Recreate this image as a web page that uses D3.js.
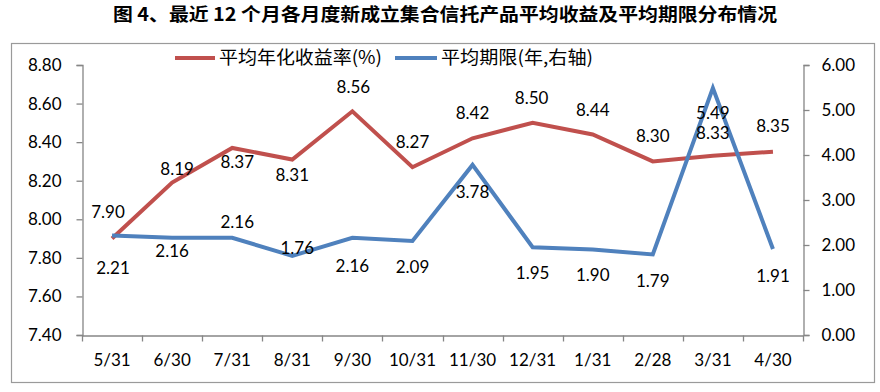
<!DOCTYPE html>
<html><head><meta charset="utf-8">
<script src="https://cdn.jsdelivr.net/npm/d3@7"></script>
<style>body{margin:0;background:#fff}svg{display:block}</style>
</head><body>
<svg id="c" width="880" height="392"></svg>
<script>
const categories = ["5/31","6/30","7/31","8/31","9/30","10/31","11/30","12/31","1/31","2/28","3/31","4/30"];
const yieldValues = [7.90,8.19,8.37,8.31,8.56,8.27,8.42,8.50,8.44,8.30,8.33,8.35];
const termValues = [2.21,2.16,2.16,1.76,2.16,2.09,3.78,1.95,1.90,1.79,5.49,1.91];
const leftTicks = [7.40,7.60,7.80,8.00,8.20,8.40,8.60,8.80];
const rightTicks = [0,1,2,3,4,5,6];
const seriesNames = ["平均年化收益率(%)","平均期限(年,右轴)"];
const titleText = "图 4、最近 12 个月各月度新成立集合信托产品平均收益及平均期限分布情况";
// label placement offsets (dx, dy) relative to the point
const yieldLabelOffset = [[-4,-27],[5,-14],[5,14],[0,16],[1,-24],[0,-25],[0,-25],[-1,-25],[0,-24],[0,-25],[0,-23],[0,-26]];
const termLabelOffset = [[1,32],[0,13],[5,-16],[5,-8],[0,28],[0,26],[0,27],[0,26],[0,26],[0,27],[0,25],[0,27]];

const svg = d3.select("#c");
const L = 82, R = 803, T = 65, B = 335;
const numFont = "Lato, 'Open Sans', sans-serif";
const cjk = "'Noto Sans CJK SC', sans-serif";
const axisColor = "#868686";
const red = "#C0504D", blue = "#4F81BD";

svg.append("rect").attr("x",11.5).attr("y",43.5).attr("width",863).attr("height",339)
  .attr("fill","none").attr("stroke","#9a9a9a").attr("stroke-width",1.2);

svg.append("text").attr("x",445).attr("y",21).attr("text-anchor","middle")
  .attr("font-family",cjk).attr("font-weight","bold").attr("font-size",18)
  .attr("textLength",664).attr("lengthAdjust","spacingAndGlyphs")
  .text(titleText);

const x = d3.scaleBand().domain(categories).range([L,R]);
const yL = d3.scaleLinear().domain([7.4,8.8]).range([B,T]);
const yR = d3.scaleLinear().domain([0,6]).range([B,T]);

const gl = svg.append("g").attr("transform",`translate(${L+0.5},0)`)
  .call(d3.axisLeft(yL).tickValues(leftTicks).tickFormat(d3.format(".2f")).tickSizeOuter(0).tickSize(6).tickPadding(15));
const gr = svg.append("g").attr("transform",`translate(${R+0.5},0)`)
  .call(d3.axisRight(yR).tickValues(rightTicks).tickFormat(d3.format(".2f")).tickSizeOuter(0).tickSize(6).tickPadding(12));
const gx = svg.append("g").attr("transform",`translate(0,${B+0.5})`)
  .call(d3.axisBottom(x).tickSize(0).tickPadding(18));
[gl,gr,gx].forEach(g=>{
  g.selectAll("path").attr("stroke",axisColor).attr("stroke-width",1.3);
  g.selectAll("line").attr("stroke",axisColor).attr("stroke-width",1.3);
  g.selectAll("text").attr("font-family",numFont).attr("font-size",17).attr("fill","#000");
});
const bounds = categories.map(c=>x(c)).concat([x(categories[categories.length-1])+x.bandwidth()]);
gx.selectAll(".btick").data(bounds).enter().append("line")
  .attr("x1",d=>Math.round(d)+0.5).attr("x2",d=>Math.round(d)+0.5).attr("y1",0).attr("y2",6)
  .attr("stroke",axisColor).attr("stroke-width",1.3);

const cx = c => x(c)+x.bandwidth()/2;

const lineL = d3.line().x((d,i)=>cx(categories[i])).y(d=>yL(d));
const lineR = d3.line().x((d,i)=>cx(categories[i])).y(d=>yR(d));
svg.append("path").datum(yieldValues).attr("d",lineL).attr("fill","none")
  .attr("stroke",red).attr("stroke-width",4).attr("stroke-linejoin","miter");
svg.append("path").datum(termValues).attr("d",lineR).attr("fill","none")
  .attr("stroke",blue).attr("stroke-width",4).attr("stroke-linejoin","miter");

svg.append("g").selectAll("text").data(yieldValues).enter().append("text")
  .attr("x",(d,i)=>cx(categories[i])+yieldLabelOffset[i][0])
  .attr("y",(d,i)=>yL(d)+yieldLabelOffset[i][1])
  .attr("dy","0.35em").attr("text-anchor","middle")
  .attr("font-family",numFont).attr("font-size",17).text(d=>d.toFixed(2));
svg.append("g").selectAll("text").data(termValues).enter().append("text")
  .attr("x",(d,i)=>cx(categories[i])+termLabelOffset[i][0])
  .attr("y",(d,i)=>yR(d)+termLabelOffset[i][1])
  .attr("dy","0.35em").attr("text-anchor","middle")
  .attr("font-family",numFont).attr("font-size",17).text(d=>d.toFixed(2));

const leg = [{x1:175,x2:215,tx:219,w:163,c:red,t:seriesNames[0]},{x1:395,x2:437,tx:441,w:152,c:blue,t:seriesNames[1]}];
leg.forEach(l=>{
  svg.append("line").attr("x1",l.x1).attr("x2",l.x2).attr("y1",58).attr("y2",58)
    .attr("stroke",l.c).attr("stroke-width",4);
  svg.append("text").attr("x",l.tx).attr("y",58).attr("dy","0.36em")
    .attr("font-family",cjk).attr("font-size",18)
    .attr("textLength",l.w).attr("lengthAdjust","spacingAndGlyphs").text(l.t);
});
</script>
</body></html>
